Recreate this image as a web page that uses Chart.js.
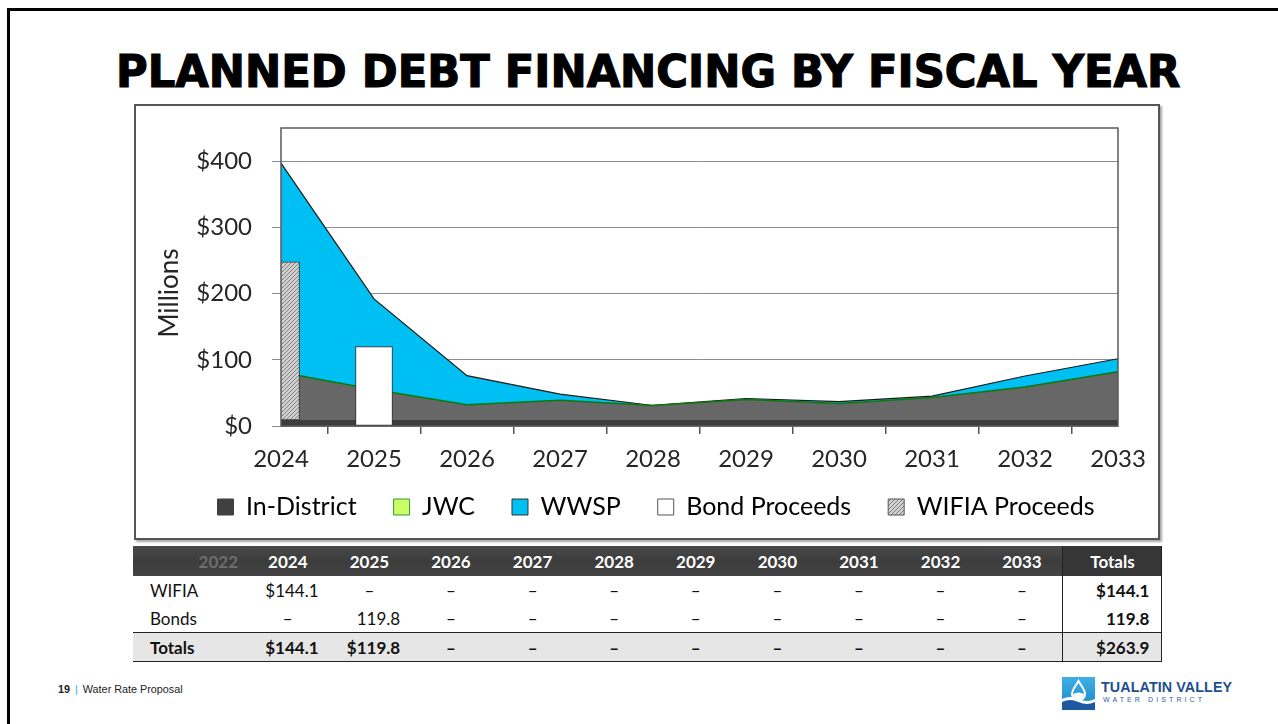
<!DOCTYPE html>
<html>
<head>
<meta charset="utf-8">
<script src="https://cdn.jsdelivr.net/npm/chart.js@4.4.1/dist/chart.umd.min.js"></script>
<style>
  html, body { margin: 0; padding: 0; background: #fff; }
  body { width: 1278px; height: 724px; position: relative; overflow: hidden; font-family: Lato, sans-serif; }
  #moldura { position: absolute; left: 7px; top: 8px; width: 1320px; height: 800px; border: 3px solid #000; box-sizing: border-box; }
  #titulo { position: absolute; left: 9px; top: 50px; width: 1278px; text-align: center; line-height: 44px; height: 44px; white-space: nowrap; }
  #titulo span { display: inline-block; font-family: "DejaVu Sans", sans-serif; font-weight: bold; font-size: 44px; color: #000; -webkit-text-stroke: 1.2px #000; transform-origin: center; }
  #caixa { position: absolute; left: 134px; top: 104px; width: 1022px; height: 432px; border: 2px solid #555; overflow: hidden; box-shadow: 2px 2px 2px rgba(0,0,0,0.35); background: #fff; }
  #grafico { position: relative; width: 1022px; height: 460px; }
  table { position: absolute; left: 133px; top: 546px; width: 1029px; border-collapse: collapse; table-layout: fixed; font-family: Lato, sans-serif; font-size: 17px; color: #111; }
  td, th { padding: 0; white-space: nowrap; }
  thead th { height: 30px; background: linear-gradient(#4a4a4a, #3c3c3c 50%, #444); color: #fff; font-weight: bold; text-align: center; }
  thead th.ano0 { color: #6e6e6e; text-align: right; padding-right: 9px; }
  tbody td { height: 28px; text-align: right; padding-right: 10px; }
  tbody td.rot { text-align: left; padding-left: 17px; padding-right: 0; }
  tbody td.traco { text-align: center; padding-right: 0; }
  tbody td.tot, thead th.tot { border-left: 1px solid #222; border-right: 1px solid #222; font-weight: bold; padding-right: 12px; }
  thead th.tot { text-align: center; padding-right: 0; background: #363636; }
  tr.totais td { background: #e6e6e6; font-weight: bold; border-top: 1.5px solid #222; border-bottom: 1px solid #222; }
  #rodape { position: absolute; left: 58px; top: 683px; font-family: "Liberation Sans", Arial, sans-serif; font-size: 10.8px; color: #222; }
  #rodape .barra { color: #29a8e0; margin: 0 5px; }
  #logo { position: absolute; left: 1062px; top: 677px; width: 210px; height: 34px; }
  #logo svg { position: absolute; left: 0; top: 0; }
  #logo .nome { position: absolute; left: 39px; top: 2px; font-family: "Liberation Sans", Arial, sans-serif; font-weight: bold; font-size: 14.3px; color: #1f4f8f; letter-spacing: 0.1px; }
  #logo .sub { position: absolute; left: 41px; top: 19px; font-family: "Liberation Sans", Arial, sans-serif; font-size: 7px; color: #2a5da8; letter-spacing: 3.1px; }
</style>
</head>
<body>
<div id="moldura"></div>
<div id="titulo"><span>PLANNED DEBT FINANCING BY FISCAL YEAR</span></div>
<div id="caixa"><div id="grafico"><canvas id="graficoDivida"></canvas></div></div>
<table id="tabela"></table>
<div id="rodape"><b>19</b><span class="barra">|</span>Water Rate Proposal</div>
<div id="logo">
  <svg width="33" height="33" viewBox="0 0 33 33">
    <defs><linearGradient id="gl" x1="0" y1="0" x2="0" y2="1"><stop offset="0" stop-color="#3fb0e6"/><stop offset="1" stop-color="#1c86c8"/></linearGradient></defs>
    <rect x="0" y="0" width="33" height="33" fill="url(#gl)"/>
    <path d="M0 22 Q8 18 16.5 22 T33 22 L33 33 L0 33 Z" fill="#fff"/>
    <path d="M0 25 Q8 21 16.5 25 T33 25 L33 33 L0 33 Z" fill="#1f5aa0"/>
    <path d="M16.5 4 C13 10 10 13 10 17 A6.5 6.5 0 0 0 23 17 C23 13 20 10 16.5 4 Z" fill="none" stroke="#fff" stroke-width="2"/>
    <path d="M11 17 Q16.5 14 22 17 A5.5 5.5 0 0 1 11 17 Z" fill="#fff"/>
  </svg>
  <div class="nome">TUALATIN VALLEY</div>
  <div class="sub">WATER DISTRICT</div>
</div>
<script>
// Dados do gráfico (valores em milhões)
const anos = ['2024', '2025', '2026', '2027', '2028', '2029', '2030', '2031', '2032', '2033'];
const inDistrict = [9, 9, 9, 9, 9, 9, 9, 9, 9, 9];
const jwc = [72, 46, 23, 30, 22, 31, 25, 34, 50, 73];
const wwsp = [316, 137, 44, 9, 0, 1.5, 2.7, 2, 16.5, 19.6];
const bondProceeds = [null, 119.8, null, null, null, null, null, null, null, null];
const wifiaProceeds = [239, null, null, null, null, null, null, null, null, null];
const yTicks = [0, 100, 200, 300, 400];
const nomesLegenda = ['In-District', 'JWC', 'WWSP', 'Bond Proceeds', 'WIFIA Proceeds'];

// Dados da tabela
const cabecalhoTabela = ['2022', '2024', '2025', '2026', '2027', '2028', '2029', '2030', '2031', '2032', '2033', 'Totals'];
const linhaWifia = ['WIFIA', '$144.1', '–', '–', '–', '–', '–', '–', '–', '–', '–', '$144.1'];
const linhaBonds = ['Bonds', '–', '119.8', '–', '–', '–', '–', '–', '–', '–', '–', '119.8'];
const linhaTotais = ['Totals', '$144.1', '$119.8', '–', '–', '–', '–', '–', '–', '–', '–', '$263.9'];

// Ajusta o título à largura da imagem original
const tituloSpan = document.querySelector('#titulo span');
tituloSpan.style.transform = 'scaleX(' + (1064 / tituloSpan.offsetWidth) + ')';

// Monta a tabela
function montarTabela() {
  const tabela = document.getElementById('tabela');
  let html = '<colgroup><col style="width:114px">';
  for (let i = 0; i < 10; i++) html += '<col style="width:81.6px">';
  html += '<col style="width:99px"></colgroup><thead><tr>';
  cabecalhoTabela.forEach((t, i) => {
    const cls = i === 0 ? 'ano0' : (i === cabecalhoTabela.length - 1 ? 'tot' : '');
    html += '<th class="' + cls + '">' + t + '</th>';
  });
  html += '</tr></thead><tbody>';
  [linhaWifia, linhaBonds, linhaTotais].forEach((linha, r) => {
    html += '<tr' + (r === 2 ? ' class="totais"' : '') + '>';
    linha.forEach((v, i) => {
      let cls = '';
      if (i === 0) cls = 'rot';
      else if (i === linha.length - 1) cls = 'tot';
      else if (v === '–') cls = 'traco';
      html += '<td class="' + cls + '">' + v + '</td>';
    });
    html += '</tr>';
  });
  html += '</tbody>';
  tabela.innerHTML = html;
}
montarTabela();

// Hachura das barras WIFIA
function criarHachura() {
  const c = document.createElement('canvas');
  c.width = 4; c.height = 4;
  const g = c.getContext('2d');
  g.fillStyle = '#d2d2d2';
  g.fillRect(0, 0, 4, 4);
  g.strokeStyle = '#7c7c7c';
  g.lineWidth = 1;
  g.beginPath();
  g.moveTo(-1, 1); g.lineTo(1, -1);
  g.moveTo(0, 4); g.lineTo(4, 0);
  g.moveTo(3, 5); g.lineTo(5, 3);
  g.stroke();
  return g.createPattern(c, 'repeat');
}
const hachura = criarHachura();

// Áreas empilhadas (somas acumuladas)
const nivel1 = inDistrict.slice();
const nivel2 = nivel1.map((v, i) => v + jwc[i]);
const nivel3 = nivel2.map((v, i) => v + wwsp[i]);
const wifiaFlutuante = wifiaProceeds.map((v, i) => v === null ? null : [inDistrict[i], inDistrict[i] + v]);

const coresLegenda = ['#404040', '#ccff66', '#00bff3', '#ffffff', hachura];
const bordasLegenda = ['#404040', '#2e9a2e', '#333333', '#555555', '#555555'];

// Posições desejadas dentro do canvas
const TOPO_AREA = 22;
const BASE_AREA = 320;

// Moldura da área do gráfico
const moldura = {
  id: 'moldura',
  afterDatasetsDraw(chart) {
    const { ctx, chartArea: a } = chart;
    ctx.save();
    ctx.strokeStyle = '#5a5a5a';
    ctx.lineWidth = 1.5;
    ctx.strokeRect(a.left, a.top, a.right - a.left, a.bottom - a.top);
    ctx.restore();
  }
};

// Título do eixo Y
const tituloEixoY = {
  id: 'tituloEixoY',
  afterDraw(chart) {
    const { ctx, chartArea: a } = chart;
    ctx.save();
    ctx.translate(a.left - 111, 187);
    ctx.rotate(-Math.PI / 2);
    ctx.font = '26px Lato';
    ctx.fillStyle = '#262626';
    ctx.textAlign = 'center';
    ctx.textBaseline = 'middle';
    ctx.fillText('Millions', 0, 0);
    ctx.restore();
  }
};

// Aproxima a legenda do eixo X e desloca-a um pouco para a direita
const posLegenda = {
  id: 'posLegenda',
  afterLayout(chart) {
    const lg = chart.legend;
    const alt = lg.bottom - lg.top;
    lg.top = chart.chartArea.bottom + 31.5;
    lg.bottom = lg.top + alt;
    lg.left += 29;
    lg.right += 29;
  }
};

const ctx = document.getElementById('graficoDivida').getContext('2d');
const grafico = new Chart(ctx, {
  data: {
    labels: anos,
    datasets: [{
      type: 'line', label: 'In-District', data: nivel1, order: 1,
      fill: 'origin', backgroundColor: '#3d3d3d', borderWidth: 0, pointRadius: 0, tension: 0
    }, {
      type: 'line', label: 'JWC', data: nivel2, order: 1,
      fill: '-1', backgroundColor: '#676767', borderColor: '#0a7a0a', borderWidth: 1.5, pointRadius: 0, tension: 0
    }, {
      type: 'line', label: 'WWSP', data: nivel3, order: 1,
      fill: '-1', backgroundColor: '#00bff3', borderColor: '#1a1a1a', borderWidth: 1.2, pointRadius: 0, tension: 0
    }, {
      type: 'bar', label: 'Bond Proceeds', data: bondProceeds, order: 0, clip: 0,
      backgroundColor: '#ffffff', borderColor: '#333333', borderWidth: 1, borderSkipped: false,
      barThickness: 37, skipNull: true
    }, {
      type: 'bar', label: 'WIFIA Proceeds', data: wifiaFlutuante, order: 0, clip: 0,
      backgroundColor: hachura, borderColor: '#3a3a3a', borderWidth: 1, borderSkipped: false,
      barThickness: 37, skipNull: true
    }]
  },
  options: {
    responsive: true,
    maintainAspectRatio: false,
    animation: false,
    layout: { padding: { top: 22, right: 40, bottom: 10, left: 0 } },
    scales: {
      x: {
        offset: false,
        grid: { drawOnChartArea: false, drawTicks: true, tickLength: 8, color: '#555', lineWidth: 1.5 },
        border: { display: false },
        ticks: { font: { family: 'Lato', size: 24 }, color: '#262626', padding: 10.5, maxRotation: 0, autoSkip: false },
        afterFit(scale) { scale.height = 44; scale.paddingLeft = 0; scale.paddingRight = 0; }
      },
      y: {
        min: 0,
        max: 450,
        grid: { color: '#8c8c8c', lineWidth: 1, tickLength: 9 },
        border: { display: false },
        ticks: {
          font: { family: 'Lato', size: 24 }, color: '#262626', padding: 20,
          callback: (v) => '$' + v
        },
        afterBuildTicks(scale) { scale.ticks = yTicks.map(v => ({ value: v })); },
        afterFit(scale) { scale.width = 145; scale.paddingTop = 0; scale.paddingBottom = 0; }
      }
    },
    plugins: {
      tooltip: { enabled: false },
      legend: {
        position: 'bottom',
        labels: {
          font: { family: 'Lato', size: 25 },
          color: '#262626',
          boxWidth: 16,
          boxHeight: 16,
          padding: 37,
          generateLabels: () => nomesLegenda.map((t, i) => ({
            text: t, fillStyle: coresLegenda[i], strokeStyle: bordasLegenda[i],
            lineWidth: 1, hidden: false, datasetIndex: i
          }))
        }
      }
    }
  },
  plugins: [moldura, tituloEixoY, posLegenda]
});

// Corrige a área do gráfico para coincidir com a original
for (let k = 0; k < 3; k++) {
  const a = grafico.chartArea;
  const p = grafico.options.layout.padding;
  p.top += TOPO_AREA - a.top;
  p.bottom += a.bottom - BASE_AREA;
  grafico.update();
}
</script>
</body>
</html>
